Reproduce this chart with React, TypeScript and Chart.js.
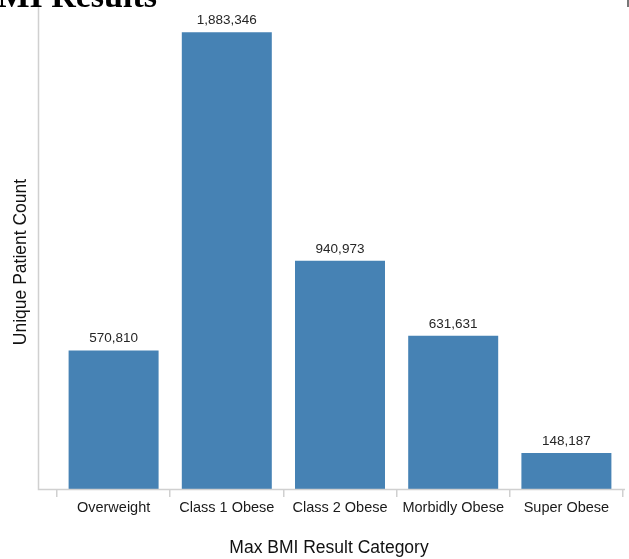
import React, { useEffect, useRef } from "react";
import { Chart, registerables } from "chart.js";

Chart.register(...registerables);

const pageTitle = "Max BMI Results";
const categories = ["Overweight", "Class 1 Obese", "Class 2 Obese", "Morbidly Obese", "Super Obese"];
const patientCounts = [570810, 1883346, 940973, 631631, 148187];
const xAxisTitle = "Max BMI Result Category";
const yAxisTitle = "Unique Patient Count";
const yMax = 2000000;

const FONT = '"Liberation Sans", Arial, sans-serif';

export default function App() {
  const canvasRef = useRef<HTMLCanvasElement | null>(null);

  useEffect(() => {
    const canvas = canvasRef.current;
    if (!canvas) return;

    const decor = {
      id: "decor",
      afterDraw(chart: any) {
        const ctx = chart.ctx;
        const area = chart.chartArea;
        ctx.save();
        ctx.strokeStyle = "#d0d0d0";
        ctx.lineWidth = 1.5;
        ctx.beginPath();
        ctx.moveTo(38.5, 0);
        ctx.lineTo(38.5, area.bottom + 0.5);
        ctx.lineTo(625, area.bottom + 0.5);
        ctx.stroke();
        const meta = chart.getDatasetMeta(0);
        ctx.fillStyle = "#262626";
        ctx.font = `13.5px ${FONT}`;
        ctx.textAlign = "center";
        ctx.textBaseline = "middle";
        meta.data.forEach((bar: any, i: number) => {
          const v = patientCounts[i];
          ctx.fillText(v.toLocaleString("en-US"), bar.x, bar.y - 12);
        });
        ctx.fillStyle = "#111";
        ctx.font = `17.5px ${FONT}`;
        ctx.fillText(xAxisTitle, 329, 548.5);
        ctx.translate(21, 262);
        ctx.rotate(-Math.PI / 2);
        ctx.fillText(yAxisTitle, 0, 0);
        ctx.restore();
      },
    };

    const chart = new Chart(canvas, {
      type: "bar",
      data: {
        labels: categories,
        datasets: [
          {
            data: patientCounts,
            backgroundColor: "#4682b4",
            borderWidth: 0,
            categoryPercentage: 1,
            barPercentage: 0.795,
          },
        ],
      },
      options: {
        responsive: false,
        animation: false,
        layout: { padding: { left: 57, right: 6, top: 4, bottom: 0 } },
        plugins: { legend: { display: false }, tooltip: { enabled: false }, title: { display: false } },
        scales: {
          x: {
            afterFit: (s: any) => {
              s.height = 70;
            },
            grid: {
              offset: true,
              drawOnChartArea: false,
              drawTicks: true,
              tickLength: 8,
              color: "#d0d0d0",
              lineWidth: 1.5,
            },
            border: { display: false },
            ticks: {
              color: "#1a1a1a",
              font: { family: FONT, size: 14.5 },
              padding: 2,
              maxRotation: 0,
              autoSkip: false,
            },
          },
          y: {
            display: false,
            min: 0,
            max: yMax,
          },
        },
      },
      plugins: [decor],
    });

    return () => chart.destroy();
  }, []);

  return (
    <div style={{ position: "absolute", left: 0, top: 0, width: 629, height: 559, overflow: "hidden", background: "#fff" }}>
      <canvas ref={canvasRef} width={629} height={559} style={{ position: "absolute", left: 0, top: 0, width: 629, height: 559 }} />
      <div
        style={{
          position: "absolute",
          right: 472,
          top: -21.5,
          fontFamily: '"Liberation Serif", "Times New Roman", serif',
          fontWeight: "bold",
          fontSize: 34,
          lineHeight: "34px",
          whiteSpace: "nowrap",
          color: "#000",
        }}
      >
        {pageTitle}
      </div>
      <div style={{ position: "absolute", left: 627, top: 0, width: 1.5, height: 7, background: "#777" }} />
    </div>
  );
}
